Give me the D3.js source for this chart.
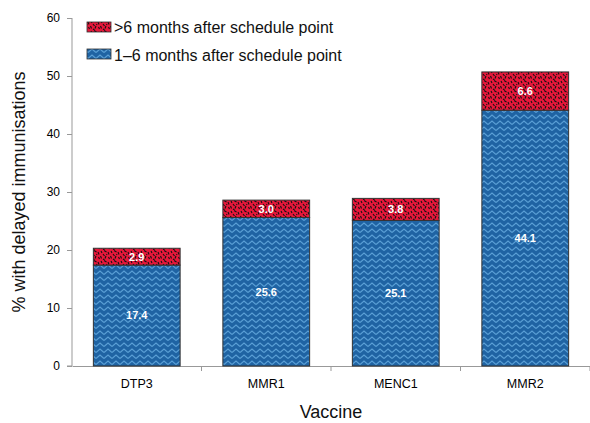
<!DOCTYPE html>
<html>
<head>
<meta charset="utf-8">
<script src="https://cdn.jsdelivr.net/npm/d3@7"></script>
<style>
  body { margin: 0; background: #fff; }
  svg { font-family: "Liberation Sans", Arial, sans-serif; }
</style>
</head>
<body>
<svg id="chart" width="590" height="423"></svg>
<script>
const vaccines = ["DTP3", "MMR1", "MENC1", "MMR2"]
const early = [17.4, 25.6, 25.1, 44.1]   // 1–6 months
const late = [2.9, 3.0, 3.8, 6.6]        // >6 months
const yTicks = [0, 10, 20, 30, 40, 50, 60]
const legendLabels = [">6 months after schedule point", "1–6 months after schedule point"]

const svg = d3.select("#chart")
const margin = { left: 72, right: 0, top: 18, bottom: 57 }
const width = 590, height = 423

const x = d3.scaleBand().domain(vaccines).range([margin.left, width - margin.right]).paddingInner(0.33).paddingOuter(0.165)
const y = d3.scaleLinear().domain([0, 60]).range([height - margin.bottom, margin.top])

// patterns
const defs = svg.append("defs")
const zig = defs.append("pattern").attr("id", "zig").attr("patternUnits", "userSpaceOnUse")
    .attr("width", 8).attr("height", 6)
zig.append("rect").attr("width", 8).attr("height", 6).attr("fill", "#1f63a3")
zig.append("path").attr("d", "M0,4.5 L4,1 L8,4.5").attr("fill", "none")
    .attr("stroke", "#5a9fd6").attr("stroke-width", 1.1)

const dots = defs.append("pattern").attr("id", "dots").attr("patternUnits", "userSpaceOnUse")
    .attr("width", 10).attr("height", 10)
dots.append("rect").attr("width", 10).attr("height", 10).attr("fill", "#e8173a")
dots.append("path")
    .attr("d", "M1,1 L2,3 M4,0.5 L6.5,2 M8,2 L9,4.5 M3,4 L4.5,6 M0.5,6 L1.5,8.5 M6,6 L5,8.5 M8.5,7 L9.5,9 M3,9 L4.5,9.8 M6.5,4 L7,5")
    .attr("stroke", "#111").attr("stroke-width", 1.1).attr("fill", "none")

// y axis
const yAxis = svg.append("g").attr("transform", `translate(${margin.left},0)`)
    .call(d3.axisLeft(y).tickValues(yTicks).tickSize(5).tickPadding(7))
yAxis.select(".domain").attr("stroke", "#999").attr("d", `M-5,${y(0)}H0V${y(60)}`)
yAxis.selectAll(".tick line").attr("stroke", "#999")
yAxis.selectAll("text").attr("font-size", 12).attr("fill", "#000")

// x axis
const xAxis = svg.append("g").attr("transform", `translate(0,${y(0)})`)
    .call(d3.axisBottom(x).tickSize(0).tickPadding(13))
xAxis.select(".domain").attr("stroke", "#999")
xAxis.selectAll("text").attr("font-size", 12.5).attr("fill", "#000")
const step = x.step()
xAxis.selectAll(".boundary").data(vaccines).enter().append("line")
    .attr("x1", d => x(d) + x.bandwidth() / 2 + step / 2)
    .attr("x2", d => x(d) + x.bandwidth() / 2 + step / 2)
    .attr("y1", 0).attr("y2", 5).attr("stroke", "#999")

// bars
const bars = svg.append("g")
vaccines.forEach((v, i) => {
    bars.append("rect").attr("x", x(v)).attr("width", x.bandwidth())
        .attr("y", y(early[i])).attr("height", y(0) - y(early[i]))
        .attr("fill", "url(#zig)").attr("stroke", "#333").attr("stroke-width", 1)
    bars.append("rect").attr("x", x(v)).attr("width", x.bandwidth())
        .attr("y", y(early[i] + late[i])).attr("height", y(early[i]) - y(early[i] + late[i]))
        .attr("fill", "url(#dots)").attr("stroke", "#333").attr("stroke-width", 1)
    bars.append("text").attr("x", x(v) + x.bandwidth() / 2).attr("y", y(early[i] / 2)).attr("dy", "0.35em")
        .attr("text-anchor", "middle").attr("fill", "#fff").attr("font-weight", "bold").attr("font-size", 11)
        .text(early[i].toFixed(1))
    bars.append("text").attr("x", x(v) + x.bandwidth() / 2).attr("y", y(early[i] + late[i] / 2)).attr("dy", "0.35em")
        .attr("text-anchor", "middle").attr("fill", "#fff").attr("font-weight", "bold").attr("font-size", 11)
        .text(late[i].toFixed(1))
})

// legend
const legend = svg.append("g")
const fills = ["url(#dots)", "url(#zig)"]
legendLabels.forEach((t, i) => {
    legend.append("rect").attr("x", 87).attr("y", 22 + i * 27).attr("width", 24).attr("height", 10)
        .attr("fill", fills[i]).attr("stroke", "#333").attr("stroke-width", 0.8)
    legend.append("text").attr("x", 114).attr("y", 27 + i * 28).attr("dy", "0.35em")
        .attr("font-size", 16).attr("fill", "#111").text(t)
})

// axis titles
svg.append("text").attr("x", 331).attr("y", 418)
    .attr("text-anchor", "middle").attr("font-size", 18).attr("fill", "#111").text("Vaccine")
svg.append("text").attr("transform", `translate(25,${(y(0) + y(60)) / 2}) rotate(-90)`)
    .attr("text-anchor", "middle").attr("font-size", 18).attr("fill", "#111").text("% with delayed immunisations")
</script>
</body>
</html>
